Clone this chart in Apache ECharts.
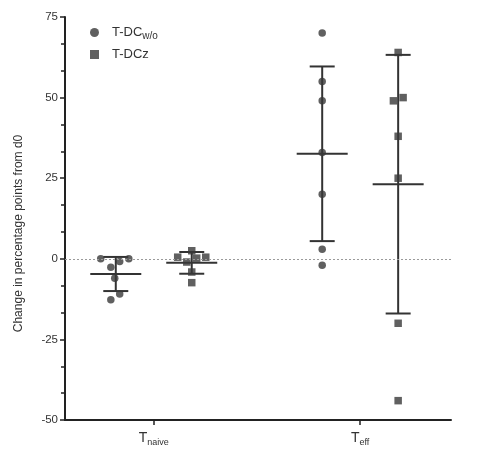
<!DOCTYPE html>
<html>
<head>
<meta charset="utf-8">
<script src="https://cdn.jsdelivr.net/npm/echarts@6/dist/echarts.min.js"></script>
<style>
  html, body { margin: 0; padding: 0; background: #fff; }
  #chart { width: 481px; height: 450px; }
</style>
</head>
<body>
<div id="chart"></div>
<script>
// Cell groups on the x axis (positions 1 and 2)
const groupNames = ['naive', 'eff'];
const groupPos = [1, 2];

// Change in percentage points from d0, per donor
const naiveWo = [0, 0, -0.8, -2.6, -6, -10.9, -12.7];
const naiveZ  = [0.5, 2.5, -1.0, 0.2, 0.5, -4.1, -7.4];
const effWo   = [70, 55, 49, 33, 20, 3, -2];
const effZ    = [64, 49, 50, 38, 25, -20, -44];

// Horizontal scatter of overlapping points (x-axis units)
const naiveWoJitter = [-0.073, 0.063, 0.019, -0.024, -0.005, 0.019, -0.024];
const naiveZJitter  = [-0.068, 0, -0.024, 0.024, 0.068, 0, 0];
const effWoJitter   = [0, 0, 0, 0, 0, 0, 0];
const effZJitter    = [0, -0.023, 0.024, 0, 0, 0, 0];

const yTicks = [-50, -25, 0, 25, 50, 75];
const seriesOffset = 0.184;
const ink = '#333333';

function mean(a) { return a.reduce((s, v) => s + v, 0) / a.length; }
function sd(a) {
  const m = mean(a);
  return Math.sqrt(a.reduce((s, v) => s + (v - m) * (v - m), 0) / (a.length - 1));
}
function points(vals, jit, center) {
  return vals.map((v, i) => [center + jit[i], v]);
}

const woCenters = groupPos.map(p => p - seriesOffset);
const zCenters  = groupPos.map(p => p + seriesOffset);

const woPoints = points(naiveWo, naiveWoJitter, woCenters[0]).concat(points(effWo, effWoJitter, woCenters[1]));
const zPoints  = points(naiveZ, naiveZJitter, zCenters[0]).concat(points(effZ, effZJitter, zCenters[1]));

const summary = [
  [woCenters[0], mean(naiveWo), sd(naiveWo)],
  [zCenters[0],  mean(naiveZ),  sd(naiveZ)],
  [woCenters[1], mean(effWo),   sd(effWo)],
  [zCenters[1],  mean(effZ),    sd(effZ)]
];

const chart = echarts.init(document.getElementById('chart'), null, { renderer: 'canvas' });

const font = 'Liberation Sans, Arial, sans-serif';

chart.setOption({
  animation: false,
  backgroundColor: '#ffffff',
  grid: { left: 65, right: 30, top: 17, bottom: 30, containLabel: false },
  legend: {
    orient: 'vertical',
    left: 85,
    top: 21,
    itemWidth: 9,
    itemHeight: 9,
    itemGap: 7,
    data: [
      { name: 'T-DCw/o', icon: 'circle' },
      { name: 'T-DCz', icon: 'rect' }
    ],
    formatter: function (name) {
      return name === 'T-DCw/o' ? '{a|T-DC}{b|w/o}' : '{a|T-DCz}';
    },
    textStyle: {
      color: ink,
      fontFamily: font,
      rich: {
        a: { fontSize: 13, fontFamily: font, color: ink, padding: [0, 0, 0, 8] },
        b: { fontSize: 10, fontFamily: font, color: ink, padding: [7, 0, 0, 0] }
      }
    }
  },
  xAxis: {
    type: 'value',
    min: 0.57,
    max: 2.44,
    splitLine: { show: false },
    axisLine: { show: true, onZero: false, lineStyle: { color: '#222', width: 2 } },
    axisTick: {
      show: true, length: 5, inside: false,
      customValues: groupPos,
      lineStyle: { color: '#222', width: 1.5 }
    },
    axisLabel: {
      customValues: groupPos,
      margin: 10,
      formatter: function (v) {
        const i = groupPos.indexOf(v);
        return i < 0 ? '' : '{t|T}{s|' + groupNames[i] + '}';
      },
      rich: {
        t: { fontSize: 14, fontFamily: font, color: ink },
        s: { fontSize: 9, fontFamily: font, color: ink, padding: [8, 0, 0, 0] }
      }
    }
  },
  yAxis: {
    type: 'value',
    min: yTicks[0],
    max: yTicks[yTicks.length - 1],
    interval: 25,
    name: 'Change in percentage points from d0',
    nameLocation: 'middle',
    nameGap: 40,
    nameRotate: 90,
    nameTextStyle: { fontFamily: font, fontSize: 12, color: ink, padding: [0, 30, 0, 0] },
    splitLine: { show: false },
    axisLine: { show: true, lineStyle: { color: '#222', width: 2 } },
    axisTick: { show: true, length: 5, lineStyle: { color: '#222', width: 1.5 } },
    minorTick: { show: true, splitNumber: 3, length: 4, lineStyle: { color: '#222', width: 1.5 } },
    axisLabel: { fontFamily: font, fontSize: 11.5, color: ink, margin: 7 }
  },
  series: [
    {
      // mean ± SD bars
      type: 'custom',
      name: 'summary',
      z: 1,
      silent: true,
      data: summary,
      renderItem: function (params, api) {
        const x = api.value(0), m = api.value(1), s = api.value(2);
        const pm = api.coord([x, m]);
        const pt = api.coord([x, m + s]);
        const pb = api.coord([x, m - s]);
        const style = { stroke: ink, lineWidth: 2 };
        return {
          type: 'group',
          children: [
            { type: 'line', shape: { x1: pm[0], y1: pt[1], x2: pm[0], y2: pb[1] }, style: style },
            { type: 'line', shape: { x1: pm[0] - 12.5, y1: pt[1], x2: pm[0] + 12.5, y2: pt[1] }, style: style },
            { type: 'line', shape: { x1: pm[0] - 12.5, y1: pb[1], x2: pm[0] + 12.5, y2: pb[1] }, style: style },
            { type: 'line', shape: { x1: pm[0] - 25.5, y1: pm[1], x2: pm[0] + 25.5, y2: pm[1] }, style: style }
          ]
        };
      },
      markLine: {
        silent: true,
        symbol: ['none', 'none'],
        label: { show: false },
        lineStyle: { color: '#9a9a9a', width: 1, type: [2, 2] },
        data: [{ yAxis: 0 }]
      }
    },
    {
      type: 'scatter',
      name: 'T-DCw/o',
      symbol: 'circle',
      symbolSize: 7.5,
      z: 3,
      itemStyle: { color: '#383838' },
      data: woPoints
    },
    {
      type: 'scatter',
      name: 'T-DCz',
      symbol: 'rect',
      symbolSize: 7.5,
      z: 3,
      itemStyle: { color: '#383838' },
      data: zPoints
    }
  ]
});
</script>
</body>
</html>
